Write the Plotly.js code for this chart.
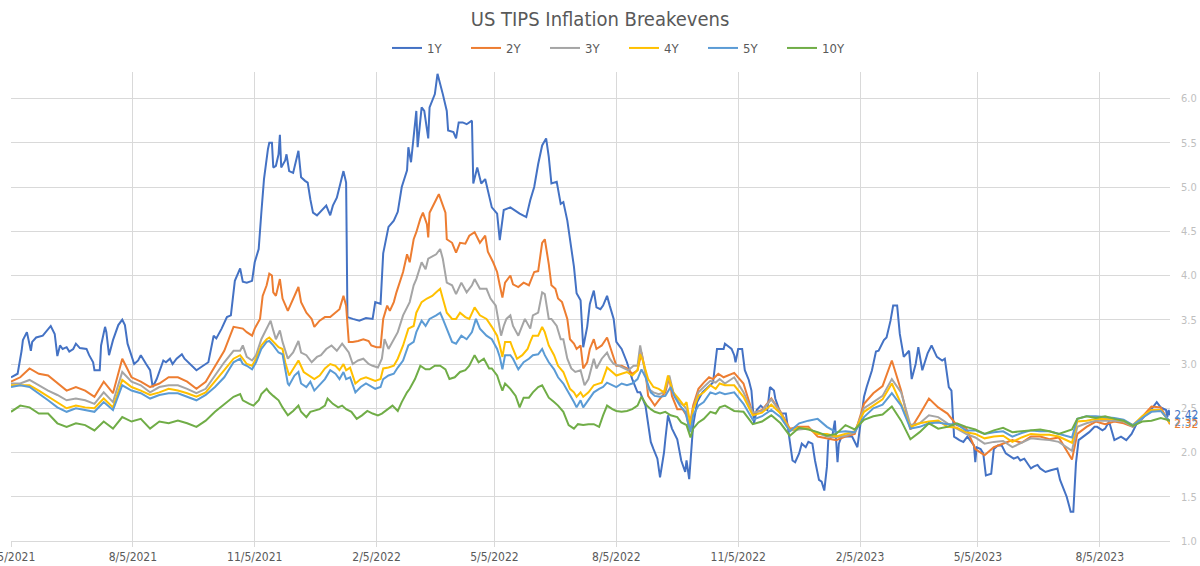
<!DOCTYPE html>
<html>
<head>
<meta charset="utf-8">
<script src="https://cdn.plot.ly/plotly-3.0.1.min.js"></script>
<style>
  html, body { margin: 0; padding: 0; background: #ffffff; }
  #chart { width: 1200px; height: 566px; }
  /* narrow letterforms for every label in the chart */
  #chart svg text { font-stretch: condensed !important; }
</style>
</head>
<body>
<div id="chart"></div>
<script>
// First observation; every series is keyed by days since this date
const START = '2021-05-05';
const END = '2023-09-27';

// Breakeven inflation by tenor: [days since START, rate %]
const be1Y = [
  [0,2.85],[5,2.89],[8,3.15],[9,3.27],[12,3.36],[15,3.15],[16,3.25],[19,3.30],[24,3.32],[30,3.43],
  [33,3.34],[35,3.09],[37,3.21],[39,3.17],[42,3.19],[44,3.14],[47,3.17],[49,3.23],[52,3.18],[57,3.17],
  [59,3.10],[62,3.02],[63,2.93],[67,2.93],[68,3.21],[71,3.42],[72,3.36],[74,3.10],[77,3.27],[81,3.44],
  [84,3.50],[86,3.44],[88,3.23],[91,3.08],[93,3.00],[96,3.04],[98,3.10],[102,3.00],[105,2.93],[107,2.74],
  [110,2.83],[115,3.04],[117,3.02],[120,3.06],[122,3.00],[125,3.06],[129,3.11],[131,3.06],[135,3.00],[140,2.93],
  [145,2.98],[149,3.02],[153,3.32],[155,3.29],[159,3.40],[163,3.53],[166,3.55],[169,3.94],[173,4.08],[175,3.93],
  [178,3.92],[182,3.94],[184,4.15],[187,4.30],[189,4.71],[191,5.09],[194,5.43],[195,5.50],[197,5.50],[198,5.22],
  [200,5.24],[202,5.37],[203,5.59],[204,5.22],[207,5.30],[208,5.37],[210,5.18],[213,5.16],[217,5.41],[219,5.11],
  [222,5.07],[224,5.05],[226,4.86],[228,4.71],[231,4.68],[233,4.71],[236,4.75],[238,4.79],[241,4.68],[243,4.79],
  [246,4.88],[248,5.00],[251,5.18],[253,5.05],[254,3.53],[258,3.51],[263,3.49],[268,3.52],[273,3.51],[275,3.70],
  [279,3.68],[281,4.25],[285,4.55],[289,4.62],[292,4.72],[295,5.00],[299,5.19],[300,5.45],[302,5.28],[306,5.86],
  [307,5.45],[310,5.90],[312,5.86],[315,5.55],[316,5.90],[320,6.05],[322,6.28],[326,6.05],[329,5.86],[330,5.64],
  [334,5.62],[336,5.55],[338,5.73],[341,5.73],[344,5.71],[348,5.75],[349,5.04],[352,5.22],[355,5.04],[358,5.09],
  [363,4.77],[367,4.70],[369,4.40],[372,4.74],[377,4.77],[384,4.70],[389,4.66],[392,4.85],[395,5.00],[398,5.26],
  [401,5.47],[404,5.55],[406,5.34],[408,5.04],[412,5.06],[415,4.81],[417,4.83],[420,4.62],[422,4.40],[425,4.10],
  [427,3.80],[430,3.72],[432,3.19],[435,3.42],[437,3.68],[440,3.83],[442,3.64],[445,3.62],[447,3.66],[450,3.77],
  [452,3.66],[455,3.51],[457,3.25],[461,3.17],[465,3.02],[469,2.83],[473,2.68],[475,2.68],[479,2.53],[483,2.12],
  [485,2.04],[488,1.93],[490,1.72],[493,2.00],[494,2.15],[496,2.42],[499,2.27],[503,2.15],[506,1.91],[509,1.78],
  [510,1.91],[512,1.70],[515,2.31],[518,2.57],[522,2.68],[525,2.72],[530,2.79],[533,3.17],[535,3.17],[538,3.17],
  [539,3.23],[542,3.19],[544,3.17],[546,3.10],[547,3.02],[549,3.17],[552,3.17],[554,2.93],[557,2.82],[559,2.70],
  [561,2.33],[563,2.48],[566,2.53],[568,2.50],[571,2.48],[573,2.74],[576,2.70],[577,2.61],[581,2.44],[585,2.44],
  [587,2.21],[590,1.91],[592,1.89],[595,1.99],[597,2.10],[600,2.06],[602,2.12],[605,2.10],[607,1.91],[610,1.69],
  [612,1.67],[614,1.57],[616,1.84],[617,2.14],[620,2.18],[622,2.36],[624,1.89],[625,2.10],[627,2.18],[631,2.18],
  [635,2.18],[639,2.06],[641,2.29],[644,2.63],[646,2.74],[650,2.93],[653,3.14],[655,3.15],[659,3.27],[661,3.30],
  [664,3.49],[666,3.66],[669,3.66],[671,3.34],[674,3.08],[678,3.15],[680,2.83],[683,3.00],[685,3.19],[688,2.93],
  [692,3.12],[695,3.21],[699,3.08],[703,3.04],[705,3.06],[708,2.74],[710,2.70],[712,2.18],[716,2.14],[719,2.12],
  [722,2.18],[724,2.14],[727,2.08],[728,1.89],[729,2.06],[732,2.04],[734,1.99],[736,1.74],[740,1.76],[742,2.04],
  [745,2.08],[748,2.08],[751,1.99],[755,1.95],[757,1.93],[760,1.95],[762,1.91],[765,1.93],[767,1.88],[770,1.82],
  [772,1.84],[775,1.86],[777,1.82],[781,1.78],[785,1.80],[790,1.82],[792,1.69],[795,1.57],[797,1.50],[799,1.39],
  [800,1.33],[802,1.33],[804,1.88],[806,2.14],[810,2.18],[814,2.23],[818,2.29],[820,2.29],[824,2.25],[826,2.27],
  [829,2.35],[833,2.14],[838,2.18],[842,2.14],[846,2.21],[850,2.33],[854,2.38],[858,2.44],[862,2.51],[865,2.57],
  [868,2.51],[872,2.48],[873,2.40],[874,2.48],[875,2.42]
];

const be2Y = [
  [0,2.80],[7,2.85],[14,2.95],[21,2.89],[28,2.87],[35,2.78],[42,2.70],[49,2.74],[56,2.70],[63,2.63],
  [70,2.80],[77,2.67],[84,3.06],[91,2.85],[98,2.80],[105,2.74],[112,2.78],[119,2.85],[126,2.85],[133,2.80],
  [140,2.72],[147,2.80],[154,2.97],[161,3.15],[168,3.42],
  [175,3.40],[178,3.36],[182,3.32],[184,3.40],[188,3.51],[190,3.77],[193,3.89],[195,4.02],[197,4.00],[198,3.81],
  [200,3.77],[203,3.96],[205,3.74],[209,3.60],[213,3.74],[217,3.87],[219,3.70],[223,3.58],[227,3.51],[229,3.42],
  [233,3.49],[237,3.53],[241,3.53],[245,3.58],[248,3.62],[251,3.77],[253,3.66],[255,3.25],[258,3.25],[262,3.26],
  [266,3.28],[270,3.26],[272,3.21],[276,3.19],[279,3.19],[281,3.51],[284,3.66],[286,3.60],[289,3.70],[291,3.81],
  [294,3.96],[296,4.04],[299,4.24],[301,4.15],[304,4.41],[306,4.49],[309,4.64],[311,4.71],[314,4.58],[315,4.43],
  [316,4.71],[319,4.79],[321,4.86],[323,4.92],[325,4.83],[328,4.71],[329,4.41],[333,4.37],[336,4.26],[339,4.37],
  [343,4.36],[346,4.45],[350,4.49],[354,4.37],[358,4.45],[360,4.27],[364,4.15],[367,4.04],[369,3.89],[371,3.75],
  [373,3.92],[377,4.00],[379,3.90],[383,3.87],[387,3.92],[391,3.89],[395,4.04],[398,4.05],[401,4.37],[403,4.41],
  [406,4.13],[408,3.89],[411,3.85],[413,3.74],[416,3.70],[420,3.51],[422,3.28],[425,3.23],[427,3.17],[430,3.21],
  [432,2.95],[435,3.02],[437,3.17],[440,3.28],[442,3.17],[446,3.21],[450,3.30],[452,3.21],[455,3.06],[457,2.98],
  [461,2.98],[465,2.95],[469,2.89],[473,2.93],[476,3.13],[479,2.91],[481,2.64],[484,2.57],[486,2.53],[490,2.61],
  [494,2.68],[497,2.85],[499,2.64],[503,2.49],[507,2.49],[510,2.42],[512,2.27],[515,2.53],[519,2.72],[523,2.79],
  [527,2.85],[530,2.83],[534,2.89],[538,2.85],
  [546,2.90],[553,2.78],[560,2.44],[567,2.48],[574,2.61],[581,2.46],[588,2.27],[595,2.29],[602,2.29],[609,2.18],
  [616,2.16],[623,2.14],[630,2.18],[637,2.21],[644,2.55],[651,2.67],[658,2.75],[665,3.04],[672,2.70],[679,2.26],
  [686,2.43],[693,2.61],[700,2.51],[707,2.44],[714,2.31],[721,2.28],[728,2.04],[735,1.97],[742,2.06],[749,2.10],
  [756,2.14],[763,2.11],[770,2.18],[777,2.18],[784,2.15],[791,2.17],[801,1.92],[805,2.21],[812,2.29],[819,2.35],
  [826,2.32],[833,2.35],[840,2.33],[847,2.29],[854,2.40],[861,2.52],[868,2.51],[875,2.32]
];

const be3Y = [
  [0,2.78],[7,2.78],[14,2.82],[21,2.76],[28,2.70],[35,2.65],[42,2.59],[49,2.61],[56,2.59],[63,2.55],
  [70,2.68],[77,2.57],[84,2.91],[91,2.80],[98,2.76],[105,2.68],[112,2.74],[119,2.76],[126,2.76],[133,2.72],
  [140,2.67],[147,2.72],[154,2.87],[161,3.02],[168,3.15],
  [173,3.15],[175,3.21],[178,3.08],[182,3.04],[185,3.10],[189,3.28],[193,3.40],[196,3.49],[198,3.38],[200,3.28],
  [203,3.38],[205,3.25],[209,3.06],[213,3.13],[217,3.26],[219,3.13],[223,3.10],[227,3.02],[231,3.08],[234,3.10],
  [238,3.17],[242,3.21],[246,3.15],[250,3.23],[252,3.19],[255,3.13],[258,3.00],[262,3.04],[266,3.06],[270,3.00],
  [273,2.98],[277,2.96],[280,3.06],[282,3.28],[285,3.17],[289,3.28],[292,3.36],[296,3.55],[299,3.64],[301,3.70],
  [304,3.89],[306,3.96],[310,4.15],[313,4.07],[315,4.19],[319,4.22],[321,4.24],[324,4.30],[326,4.19],[329,3.92],
  [333,3.89],[336,3.79],[340,3.92],[344,3.81],[348,3.89],[350,3.96],[354,3.85],[359,3.85],[362,3.74],[366,3.66],
  [368,3.51],[370,3.32],[372,3.43],[374,3.51],[377,3.55],[379,3.43],[383,3.32],[386,3.43],[388,3.51],[392,3.40],
  [394,3.55],[398,3.58],[401,3.81],[403,3.79],[406,3.51],[408,3.51],[412,3.43],[415,3.28],[417,3.28],[420,3.06],
  [423,2.95],[426,2.91],[430,2.93],[433,2.76],[436,2.83],[440,3.06],[442,2.95],[446,3.06],[450,3.13],[452,3.06],
  [455,3.00],[459,2.98],[462,2.96],[466,2.93],[470,2.98],[473,2.98],[475,3.21],[477,3.06],[481,2.72],[485,2.68],
  [489,2.66],[493,2.68],[495,2.76],[497,2.87],[500,2.68],[504,2.57],[508,2.53],[510,2.49],[512,2.23],[515,2.49],
  [519,2.68],[523,2.74],[528,2.81],[532,2.79],[535,2.83],[539,2.78],
  [546,2.85],[553,2.68],[560,2.45],[567,2.47],[574,2.60],[581,2.45],[588,2.25],[595,2.26],[602,2.27],[609,2.22],
  [616,2.18],[623,2.17],[630,2.19],[637,2.23],[644,2.50],[651,2.57],[658,2.64],[665,2.83],[672,2.68],[679,2.31],
  [686,2.33],[693,2.42],[700,2.40],[707,2.33],[714,2.27],[721,2.21],[728,2.17],[735,2.10],[742,2.12],[749,2.13],
  [756,2.06],[763,2.11],[770,2.16],[777,2.15],[784,2.14],[791,2.12],[801,2.02],[805,2.29],[812,2.33],[819,2.36],
  [826,2.36],[833,2.36],[840,2.35],[847,2.29],[854,2.39],[861,2.47],[868,2.48],[875,2.34]
];

const be4Y = [
  [0,2.76],[7,2.76],[14,2.76],[21,2.70],[28,2.63],[35,2.57],[42,2.50],[49,2.53],[56,2.51],[63,2.50],
  [70,2.61],[77,2.51],[84,2.82],[91,2.74],[98,2.70],[105,2.65],[112,2.68],[119,2.72],[126,2.70],[133,2.67],
  [140,2.63],[147,2.68],[154,2.80],[161,2.93],[168,3.06],
  [173,3.10],[175,3.06],[178,3.00],[182,2.98],[185,3.06],[189,3.21],[193,3.28],[195,3.30],[198,3.25],[202,3.19],
  [205,3.17],[207,3.02],[210,2.87],[213,2.95],[217,3.04],[221,2.91],[223,2.89],[226,2.85],[229,2.83],[233,2.87],
  [237,2.95],[241,3.00],[245,2.98],[248,2.93],[251,3.00],[253,2.93],[256,2.96],[260,2.78],[264,2.83],[268,2.85],
  [272,2.83],[275,2.81],[279,2.83],[281,2.95],[285,2.96],[289,2.98],[292,3.06],[296,3.21],[300,3.40],[304,3.43],
  [306,3.58],[310,3.70],[314,3.74],[318,3.77],[321,3.81],[324,3.85],[326,3.74],[329,3.58],[333,3.51],[336,3.51],
  [339,3.58],[343,3.53],[346,3.51],[350,3.64],[354,3.55],[359,3.51],[363,3.42],[367,3.32],[369,3.21],[371,3.08],
  [373,3.25],[377,3.25],[379,3.17],[382,3.06],[386,3.10],[390,3.17],[392,3.25],[394,3.32],[398,3.32],[401,3.42],
  [403,3.36],[406,3.21],[410,3.10],[413,2.98],[417,2.91],[420,2.79],[422,2.72],[425,2.68],[427,2.63],[430,2.68],
  [432,2.63],[436,2.68],[440,2.76],[442,2.77],[446,2.79],[450,2.96],[454,2.91],[457,2.87],[461,2.89],[465,2.91],
  [469,2.87],[473,2.93],[475,3.11],[477,3.04],[481,2.83],[485,2.74],[489,2.72],[493,2.68],[496,2.87],[500,2.68],
  [504,2.61],[508,2.53],[510,2.57],[513,2.31],[515,2.49],[519,2.64],[523,2.68],[528,2.76],[532,2.72],[535,2.78],
  [539,2.76],
  [546,2.76],[553,2.63],[560,2.42],[567,2.45],[574,2.54],[581,2.44],[588,2.25],[595,2.28],[602,2.27],[609,2.21],
  [616,2.21],[623,2.18],[630,2.21],[637,2.24],[644,2.46],[651,2.53],[658,2.60],[665,2.78],[672,2.55],[679,2.29],
  [686,2.33],[693,2.35],[700,2.36],[707,2.29],[714,2.28],[721,2.23],[728,2.21],[735,2.16],[742,2.18],[749,2.19],
  [756,2.12],[763,2.17],[770,2.21],[777,2.20],[784,2.20],[791,2.18],[801,2.11],[805,2.35],[812,2.36],[819,2.38],
  [826,2.38],[833,2.38],[840,2.36],[847,2.31],[854,2.41],[861,2.48],[868,2.48],[875,2.33]
];

const be5Y = [
  [0,2.74],[7,2.76],[14,2.74],[21,2.67],[28,2.59],[35,2.51],[42,2.46],[49,2.50],[56,2.48],[63,2.46],
  [70,2.57],[77,2.48],[84,2.76],[91,2.70],[98,2.67],[105,2.61],[112,2.65],[119,2.67],[126,2.67],[133,2.63],
  [140,2.59],[147,2.65],[154,2.74],[161,2.85],[168,3.02],
  [173,3.06],[175,3.00],[178,2.98],[182,2.94],[185,3.02],[189,3.17],[193,3.25],[195,3.26],[198,3.21],[202,3.13],
  [205,3.11],[209,2.78],[210,2.76],[214,2.87],[217,2.91],[219,2.78],[223,2.74],[226,2.80],[229,2.70],[233,2.76],
  [237,2.83],[241,2.93],[245,2.89],[248,2.83],[251,2.91],[253,2.83],[256,2.85],[260,2.68],[264,2.74],[268,2.78],
  [272,2.74],[275,2.72],[279,2.74],[281,2.83],[285,2.87],[289,2.89],[292,2.96],[296,3.04],[300,3.21],[304,3.25],
  [306,3.36],[310,3.49],[313,3.43],[316,3.51],[321,3.55],[324,3.58],[326,3.51],[329,3.40],[333,3.25],[336,3.23],
  [340,3.32],[344,3.28],[348,3.36],[351,3.51],[354,3.40],[359,3.32],[363,3.28],[367,3.17],[369,3.08],[371,2.94],
  [373,3.10],[377,3.10],[379,3.06],[383,2.94],[387,3.02],[391,3.06],[394,3.10],[398,3.11],[401,3.17],[403,3.10],
  [406,3.02],[410,2.94],[413,2.85],[417,2.78],[421,2.68],[425,2.57],[427,2.51],[430,2.59],[432,2.51],[436,2.59],
  [440,2.68],[444,2.72],[447,2.74],[450,2.79],[454,2.76],[457,2.74],[461,2.78],[465,2.76],[469,2.78],[473,2.83],
  [476,2.94],[479,2.85],[483,2.68],[486,2.64],[490,2.63],[494,2.64],[498,2.74],[501,2.63],[505,2.53],[509,2.46],
  [513,2.23],[515,2.42],[519,2.53],[523,2.57],[528,2.68],[532,2.66],[535,2.68],[539,2.66],
  [546,2.68],[553,2.55],[560,2.37],[567,2.41],[574,2.48],[581,2.40],[588,2.24],[595,2.33],[602,2.36],[609,2.38],
  [616,2.29],[623,2.23],[630,2.24],[637,2.23],[644,2.40],[651,2.50],[658,2.54],[665,2.67],[672,2.53],[679,2.27],
  [686,2.29],[693,2.33],[700,2.34],[707,2.32],[714,2.32],[721,2.25],[728,2.25],[735,2.21],[742,2.23],[749,2.24],
  [756,2.18],[763,2.22],[770,2.25],[777,2.24],[784,2.24],[791,2.21],[801,2.17],[805,2.38],[812,2.41],[819,2.41],
  [826,2.40],[833,2.39],[840,2.37],[847,2.31],[854,2.39],[861,2.46],[868,2.47],[875,2.35]
];

const be10Y = [
  [0,2.46],[7,2.53],[14,2.51],[21,2.44],[28,2.44],[35,2.33],[42,2.29],[49,2.33],[56,2.31],[63,2.25],
  [70,2.35],[77,2.27],[84,2.40],[91,2.35],[98,2.38],[105,2.27],[112,2.35],[119,2.33],[126,2.36],[133,2.33],
  [140,2.29],[147,2.36],[154,2.46],[161,2.55],[168,2.63],
  [173,2.66],[175,2.59],[180,2.55],[183,2.53],[187,2.59],[189,2.66],[193,2.72],[195,2.68],[198,2.64],[202,2.59],
  [205,2.51],[209,2.42],[213,2.47],[217,2.53],[219,2.46],[223,2.40],[226,2.46],[229,2.47],[233,2.49],[237,2.53],
  [239,2.61],[243,2.55],[247,2.51],[250,2.53],[253,2.49],[257,2.46],[261,2.38],[265,2.42],[269,2.47],[273,2.44],
  [277,2.42],[280,2.44],[284,2.49],[288,2.53],[292,2.47],[295,2.57],[299,2.68],[301,2.72],[305,2.83],[309,2.98],
  [313,2.94],[316,2.94],[320,2.98],[324,2.98],[328,2.94],[331,2.83],[335,2.85],[339,2.91],[343,2.93],[346,2.98],
  [350,3.10],[353,3.02],[357,3.06],[361,2.95],[363,2.95],[367,2.87],[369,2.78],[371,2.70],[373,2.78],[377,2.72],
  [381,2.64],[384,2.51],[387,2.62],[391,2.62],[394,2.68],[398,2.74],[401,2.76],[403,2.70],[406,2.62],[410,2.57],
  [413,2.53],[417,2.46],[421,2.31],[425,2.27],[428,2.32],[432,2.31],[436,2.32],[440,2.32],[444,2.29],[447,2.42],
  [450,2.53],[454,2.49],[457,2.47],[461,2.46],[465,2.47],[469,2.49],[473,2.53],[476,2.63],[480,2.53],[483,2.49],
  [486,2.46],[490,2.44],[494,2.46],[498,2.42],[503,2.40],[506,2.34],[510,2.31],[513,2.17],[515,2.27],[519,2.34],
  [523,2.38],[528,2.46],[532,2.44],[535,2.51],[539,2.53],
  [546,2.47],[553,2.46],[560,2.32],[567,2.35],[574,2.42],[581,2.33],[588,2.19],[595,2.28],[602,2.26],[609,2.23],
  [616,2.19],[623,2.21],[630,2.31],[637,2.26],[644,2.37],[651,2.41],[658,2.43],[665,2.52],[672,2.36],[679,2.15],
  [686,2.23],[693,2.33],[700,2.27],[707,2.29],[714,2.33],[721,2.29],[728,2.26],[735,2.21],[742,2.25],[749,2.28],
  [756,2.23],[763,2.24],[770,2.25],[777,2.26],[784,2.24],[791,2.21],[801,2.26],[805,2.38],[812,2.41],[819,2.39],
  [826,2.41],[833,2.38],[840,2.36],[847,2.30],[854,2.35],[861,2.36],[868,2.39],[875,2.36]
];

const seriesNames = ['1Y', '2Y', '3Y', '4Y', '5Y', '10Y'];
const seriesData = [be1Y, be2Y, be3Y, be4Y, be5Y, be10Y];
const seriesColors = ['#4472C4', '#ED7D31', '#A5A5A5', '#FFC000', '#5B9BD5', '#70AD47'];

// Tenors whose closing value is printed next to the last point
const labelledTenors = ['1Y', '5Y', '2Y'];

const tickDates = ['2021-05-05','2021-08-05','2021-11-05','2022-02-05','2022-05-05',
                   '2022-08-05','2022-11-05','2023-02-05','2023-05-05','2023-08-05'];
const tickLabels = ['5/5/2021','8/5/2021','11/5/2021','2/5/2022','5/5/2022',
                    '8/5/2022','11/5/2022','2/5/2023','5/5/2023','8/5/2023'];

const FONT = '"DejaVu Sans", sans-serif';

// day offset -> ISO date string
const startMs = Date.parse(START + 'T00:00:00Z');
const dayToDate = d => new Date(startMs + d * 86400000).toISOString().slice(0, 10);

const seriesXY = seriesData.map(s => ({
  x: s.map(p => dayToDate(p[0])),
  y: s.map(p => p[1])
}));

const traces = seriesNames.map((name, i) => ({
  type: 'scatter',
  mode: 'lines',
  name: name,
  x: seriesXY[i].x,
  y: seriesXY[i].y,
  line: { color: seriesColors[i], width: 2 },
  hoverinfo: 'x+y+name'
}));

const annotations = labelledTenors.map(t => {
  const i = seriesNames.indexOf(t);
  const xs = seriesXY[i].x, ys = seriesXY[i].y;
  const v = ys[ys.length - 1];
  return {
    x: xs[xs.length - 1], y: v, xref: 'x', yref: 'y',
    text: v.toFixed(2), showarrow: false,
    xanchor: 'left', yanchor: 'middle', xshift: 1,
    font: { family: FONT, size: 12, color: seriesColors[i] }
  };
});

const layout = {
  width: 1200,
  height: 566,
  margin: { l: 11, r: 30, t: 72, b: 25 },
  paper_bgcolor: '#ffffff',
  plot_bgcolor: '#ffffff',
  title: {
    text: 'US TIPS Inflation Breakevens',
    font: { family: FONT, size: 20, color: '#595959' },
    x: 0.5, xref: 'container', xanchor: 'center',
    y: 1 - 19 / 566, yref: 'container', yanchor: 'middle'
  },
  showlegend: true,
  legend: {
    orientation: 'h',
    x: 387 / 1200, xref: 'container', xanchor: 'left',
    y: 1 - 48 / 566, yref: 'container', yanchor: 'middle',
    font: { family: FONT, size: 13, color: '#595959' },
    entrywidth: 34,
    itemwidth: 30,
    bgcolor: 'rgba(0,0,0,0)'
  },
  xaxis: {
    type: 'date',
    range: [START, END],
    tickmode: 'array',
    tickvals: tickDates,
    ticktext: tickLabels,
    ticklabeloverflow: 'allow',
    showgrid: true,
    gridcolor: '#d9d9d9',
    gridwidth: 1,
    showline: true,
    linecolor: '#d9d9d9',
    ticks: 'outside',
    ticklen: 5,
    tickcolor: '#d9d9d9',
    tickfont: { family: FONT, size: 12, color: '#595959' },
    zeroline: false,
    automargin: false
  },
  yaxis: {
    side: 'right',
    range: [1, 6.3],
    tick0: 1,
    dtick: 0.5,
    tickformat: '.1f',
    showgrid: true,
    gridcolor: '#d9d9d9',
    gridwidth: 1,
    showline: false,
    zeroline: false,
    ticks: '',
    ticklabelstandoff: 10,
    tickfont: { family: FONT, size: 11, color: '#bfbfbf' },
    automargin: false
  },
  annotations: annotations
};

Plotly.newPlot('chart', traces, layout, { displayModeBar: false, staticPlot: true });
</script>
</body>
</html>
